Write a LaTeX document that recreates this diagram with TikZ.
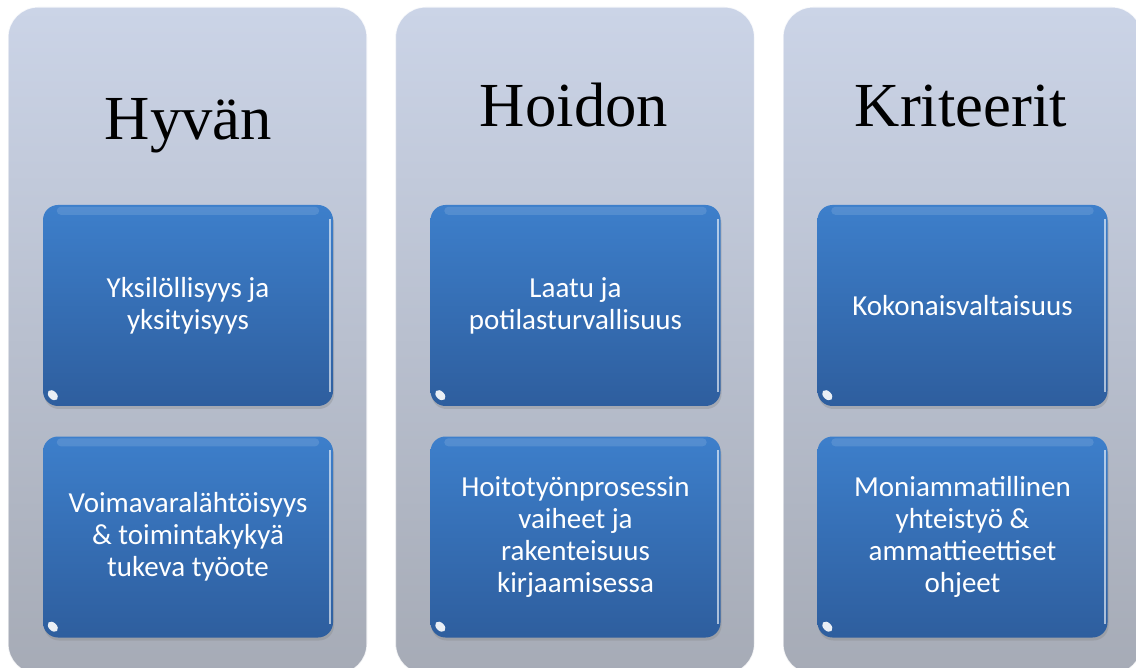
\documentclass[tikz,border=0pt]{standalone}
\usepackage{fontspec}
\setmainfont{Liberation Serif}
\newfontfamily\boxfont{Carlito}
\usetikzlibrary{shadows}
\definecolor{coltop}{RGB}{203,212,231}
\definecolor{colbot}{RGB}{166,171,182}
\definecolor{boxtop}{RGB}{61,127,203}
\definecolor{boxbot}{RGB}{46,94,158}
\tikzset{
  column/.style={rounded corners=30pt, minimum width=359pt, minimum height=667pt, inner sep=0pt,
    top color=coltop, bottom color=colbot, draw=white, draw opacity=0.8, line width=1.2pt},
  coltitle/.style={font=\fontsize{62.7}{70}\selectfont, anchor=base, text=black, inner sep=0pt},
  itembox/.style={rounded corners=15pt, minimum width=290pt, minimum height=201pt, inner sep=0pt,
    top color=boxtop, bottom color=boxbot, text=white, align=center,
    font=\boxfont\fontsize{29}{32}\selectfont,
    drop shadow={opacity=0.3, shadow xshift=1pt, shadow yshift=-3pt}},
  topshine/.style={white, opacity=0.12, rounded corners=4pt},
  edgeshine/.style={white, opacity=0.6, line width=2pt},
  glint/.style={white, opacity=0.9},
}
\begin{document}
\begin{tikzpicture}[x=1pt,y=-1pt]
\useasboundingbox (0,0) rectangle (1136,668);
\fill[white] (0,0) rectangle (1136,668);
\clip (0,0) rectangle (1136,668);
% columns
\node[column] (col1) at (187.5,340.5) {};
\node[column] (col2) at (575,340.5) {};
\node[column] (col3) at (962.5,340.5) {};
% titles
\node[coltitle] (t1) at (188.5,140) {Hyvän};
\node[coltitle] (t2) at (574,127) {Hoidon};
\node[coltitle] (t3) at (961,127) {Kriteerit};
% items
\node[itembox] (a1) at (188,305.5) {Yksilöllisyys ja\\yksityisyys};
\node[itembox] (a2) at (188,537) {Voimavaralähtöisyys\\\& toimintakykyä\\tukeva työote};
\node[itembox] (b1) at (575.5,305.5) {Laatu ja\\potilasturvallisuus};
\node[itembox] (b2) at (575.5,537) {Hoitotyönprosessin\\vaiheet ja\\rakenteisuus\\kirjaamisessa};
\node[itembox] (c1) at (962.5,305.5) {Kokonaisvaltaisuus};
\node[itembox] (c2) at (962.5,537) {Moniammatillinen\\yhteistyö \&\\ammattieettiset\\ohjeet};
\foreach \n in {a1,a2,b1,b2,c1,c2} {
  \fill[topshine] ([xshift=14pt,yshift=-2pt]\n.north west) rectangle ([xshift=-14pt,yshift=-10pt]\n.north east);
  \draw[edgeshine] ([xshift=-3pt,yshift=-14pt]\n.north east) -- ([xshift=-3pt,yshift=14pt]\n.south east);
  \fill[glint] ([xshift=10pt,yshift=11pt]\n.south west) ellipse [x radius=6pt, y radius=4pt, rotate=-45];
}
\end{tikzpicture}
\end{document}
